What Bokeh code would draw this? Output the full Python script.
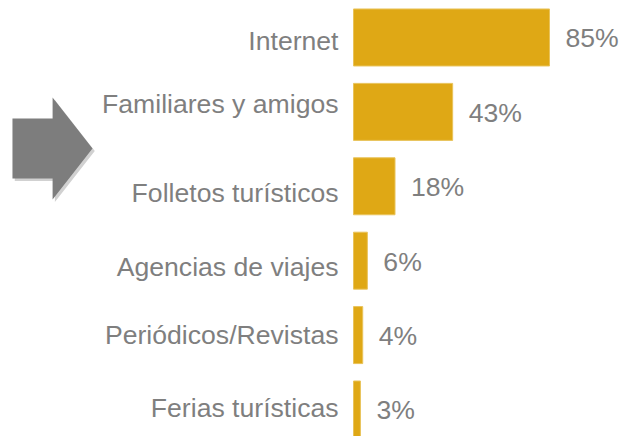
from bokeh.plotting import figure
from bokeh.models import Range1d, ColumnDataSource
from bokeh.core.properties import value
from bokeh.embed import file_html
from bokeh.resources import INLINE

# Data
categories = ["Internet", "Familiares y amigos", "Folletos turísticos",
              "Agencias de viajes", "Periódicos/Revistas", "Ferias turísticas"]
percentages = [85, 43, 18, 6, 4, 3]
value_labels = [f"{v}%" for v in percentages]

# Style: small vertical nudges of the category labels (screen px)
label_nudge_px = [4, -8, 7, 6, 0, -1]

idx = list(range(len(categories)))

src = ColumnDataSource(dict(
    y=idx, right=percentages, cat=categories, lab=value_labels,
    zero=[0] * len(idx), nudge=label_nudge_px,
))

p = figure(width=621, height=436, output_backend="svg", toolbar_location=None,
           x_range=Range1d(-153.09, 116.22), y_range=Range1d(5.363, -0.497),
           min_border=0, min_border_left=0, min_border_right=0,
           min_border_top=0, min_border_bottom=0)
p.axis.visible = False
p.grid.visible = False
p.outline_line_color = None
p.background_fill_color = "white"
p.border_fill_color = "white"

GOLD = "#DFA815"
GRAY = "#7F7F7F"

p.hbar(y="y", left=0, right="right", height=0.766, source=src,
       fill_color=GOLD, line_color="#E9C35A", line_width=1)

p.text(x="zero", y="y", text="cat", source=src, x_offset=-15, y_offset="nudge",
       text_align="right", text_baseline="middle",
       text_font=value("Liberation Sans"), text_font_size="26.6px",
       text_color=GRAY)

p.text(x="right", y="y", text="lab", source=src, x_offset=16, y_offset=1,
       text_align="left", text_baseline="middle",
       text_font=value("Liberation Sans"), text_font_size="26.6px",
       text_color=GRAY)

# Decorative arrow (left side), in data units
ax = [-147.9, -130.5, -130.5, -113.2, -130.5, -130.5, -147.9]
ay = [1.089, 1.089, 0.806, 1.492, 2.177, 1.895, 1.895]
p.patch([x + 1.0 for x in ax], [y + 0.035 for y in ay],
        fill_color="#9a9a9a", fill_alpha=0.45, line_color=None)
p.patch(ax, ay, fill_color="#7d7d7d", line_color=None)

open("out.html", "w").write(file_html(p, INLINE))
